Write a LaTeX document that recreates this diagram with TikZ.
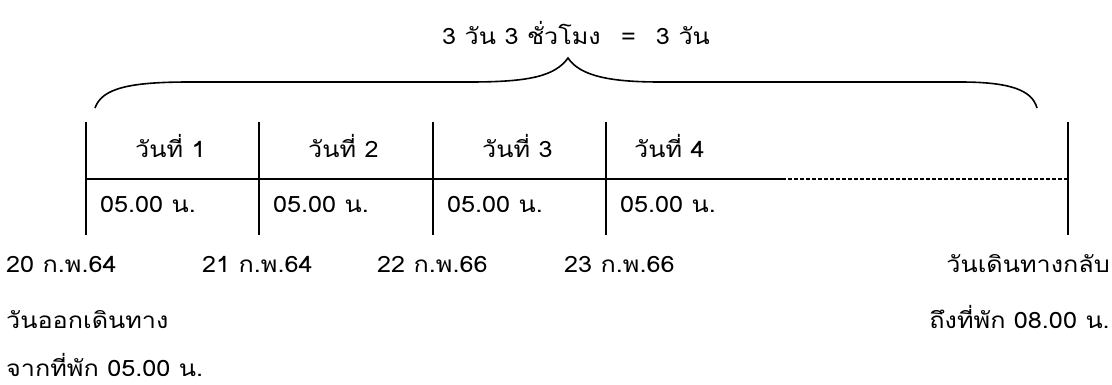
\documentclass[tikz,border=0pt]{standalone}
\usepackage{fontspec}
\newfontfamily\thaifont[Script=Thai,FakeStretch=1.12]{Loma}
\tikzset{
  txt/.style={font=\thaifont\fontsize{22.5}{26}\selectfont, inner sep=0pt, text=black},
  vline/.style={line width=2pt, black},
  hline/.style={line width=1.5pt, black},
  dline/.style={line width=1.5pt, black, dash pattern=on 4pt off 2pt},
  bracel/.style={line width=1.6pt, black}
}
\begin{document}
\begin{tikzpicture}[x=1pt,y=-1pt]
\useasboundingbox (0,0) rectangle (1112,385);
% title
\node[txt,anchor=base west] (title) at (442,45) {3 วัน 3 ชั่วโมง\hspace{0.9em}=\hspace{0.9em}3 วัน};
% brace
\coordinate (bl) at (95,108);
\coordinate (br) at (1037,108);
\coordinate (bt) at (568,58);
\draw[bracel] (bl) .. controls (102,88) and (130,82) .. (190,82) -- (470,82)
  .. controls (530,82) and (555,76) .. (bt)
  .. controls (580,76) and (610,82) .. (660,82) -- (960,82)
  .. controls (1010,82) and (1032,90) .. (br);
% verticals
\coordinate (v1t) at (86,122);  \coordinate (v1b) at (86,235);
\coordinate (v2t) at (259,122); \coordinate (v2b) at (259,235);
\coordinate (v3t) at (433,122); \coordinate (v3b) at (433,235);
\coordinate (v4t) at (606,122); \coordinate (v4b) at (606,235);
\coordinate (v5t) at (1068,122); \coordinate (v5b) at (1068,235);
\foreach \i in {1,...,5} \draw[vline] (v\i t) -- (v\i b);
\coordinate (hl) at (86,179); \coordinate (hm) at (782,179); \coordinate (hr) at (1068,179);
\draw[hline] (hl) -- (hm);
\draw[dline] (hm) -- (hr);
% cell labels
\node[txt,anchor=base west] (d1) at (135,158) {วันที่ 1};
\node[txt,anchor=base west] (d2) at (308,158) {วันที่ 2};
\node[txt,anchor=base west] (d3) at (482,158) {วันที่ 3};
\node[txt,anchor=base west] (d4) at (634,158) {วันที่ 4};
\node[txt,anchor=base west] (t1) at (100,212) {05.00 น.};
\node[txt,anchor=base west] (t2) at (273,212) {05.00 น.};
\node[txt,anchor=base west] (t3) at (447,212) {05.00 น.};
\node[txt,anchor=base west] (t4) at (620,212) {05.00 น.};
% dates
\node[txt,anchor=base west] (a1) at (6,272) {20 ก.พ.64};
\node[txt,anchor=base west] (a2) at (202,272) {21 ก.พ.64};
\node[txt,anchor=base west] (a3) at (377,272) {22 ก.พ.66};
\node[txt,anchor=base west] (a4) at (564,272) {23 ก.พ.66};
\node[txt,anchor=base east] (a5) at (1110,272) {วันเดินทางกลับ};
\node[txt,anchor=base west] (b1) at (6,328) {วันออกเดินทาง};
\node[txt,anchor=base east] (b2) at (1110,328) {ถึงที่พัก 08.00 น.};
\node[txt,anchor=base west] (c1) at (6,376) {จากที่พัก 05.00 น.};
\end{tikzpicture}
\end{document}
